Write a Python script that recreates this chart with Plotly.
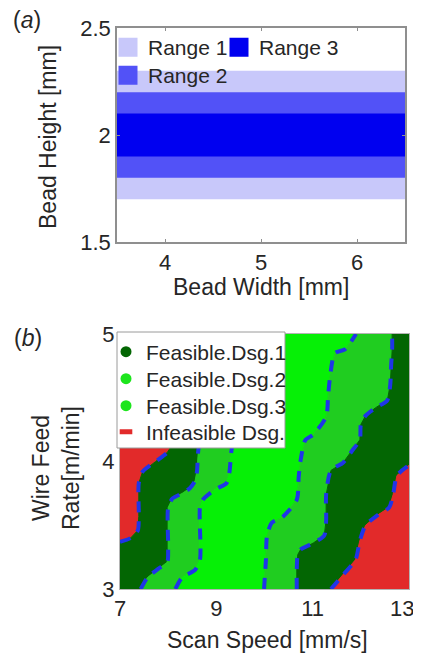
import plotly.graph_objects as go

# the page body has an 8px default margin: size the figure so that it fills the window
OFF = 8
W, H = 421 - OFF, 653 - OFF
FONT = "Liberation Sans, Arial, sans-serif"
TXT = "#262626"


def px(x):
    return (x - OFF) / W


def py(y):
    return 1 - (y - OFF) / H


# ---------------- Panel (a) data ----------------
range_names = ["Range 1", "Range 2", "Range 3"]
range_low = [1.7, 1.8, 1.9]
range_high = [2.3, 2.2, 2.1]
range_colors = ["#C8C8FA", "#5252F7", "#0000F0"]
width_min, width_max = 3.5, 6.5
a_xticks = [4, 5, 6]
a_yticks = [1.5, 2, 2.5]
a_yticktext = ["1.5", "2", "2.5"]

# ---------------- Panel (b) data ----------------
b_xticks = [7, 9, 11, 13]
b_xticktext = ["7", "9", "11", "13"]
b_yticks = [3, 4, 5]
speed_min, speed_max = 7, 13
feed_min, feed_max = 3, 5

# boundaries (scan speed, wire feed), listed bottom -> top
L1_x = [7.00, 7.22, 7.37, 7.39, 7.39, 7.47, 7.74, 7.98, 8.05, 8.30, 8.50]
L1_y = [3.37, 3.40, 3.46, 3.57, 3.83, 3.92, 4.00, 4.07, 4.11, 4.45, 5.00]
L2_x = [7.43, 7.57, 7.80, 7.98, 8.00, 8.00, 8.09, 8.29, 8.45, 8.56, 8.60, 8.63, 8.90, 9.10]
L2_y = [3.00, 3.09, 3.16, 3.21, 3.31, 3.64, 3.71, 3.75, 3.79, 3.85, 3.93, 4.10, 4.50, 5.00]
L3_x = [8.15, 8.29, 8.56, 8.66, 8.66, 8.72, 8.97, 9.21, 9.27, 9.32, 9.60, 9.90]
L3_y = [3.00, 3.09, 3.15, 3.23, 3.64, 3.70, 3.78, 3.83, 3.91, 4.10, 4.50, 5.00]
R3_x = [9.99, 10.03, 10.05, 10.15, 10.36, 10.67, 10.71, 10.75, 10.85, 11.01, 11.28, 11.32,
        11.36, 11.46, 11.67, 11.90]
R3_y = [3.00, 3.23, 3.41, 3.52, 3.56, 3.70, 3.88, 4.01, 4.17, 4.21, 4.35, 4.51,
        4.66, 4.85, 4.88, 5.00]
R2_x = [10.67, 10.67, 10.69, 10.75, 11.01, 11.24, 11.28, 11.28, 11.38, 11.63, 11.83, 11.98,
        12.00, 12.10, 12.30, 12.55, 12.61, 12.63, 12.65, 12.65]
R2_y = [3.00, 3.15, 3.27, 3.31, 3.36, 3.42, 3.54, 3.74, 3.93, 3.99, 4.09, 4.17,
        4.29, 4.36, 4.42, 4.48, 4.60, 4.76, 4.87, 5.00]
R1_x = [11.38, 11.63, 11.89, 11.98, 12.10, 12.35, 12.59, 12.67, 12.75, 12.96, 13.00]
R1_y = [3.00, 3.11, 3.23, 3.38, 3.50, 3.58, 3.64, 3.74, 3.89, 3.96, 3.97]

design_names = ["Feasible.Dsg.1", "Feasible.Dsg.2", "Feasible.Dsg.3", "Infeasible Dsg."]
c_dark = "#036603"
c_mid = "#20CD20"
c_bright = "#06F006"
c_red = "#E22A2A"
legend_colors = [c_dark, "#1DE51D", "#1DE51D", c_red]
dash_color = "#1F35E8"

fig = go.Figure()

# ---- panel (a) bands ----
for name, lo, hi, col in zip(range_names, range_low, range_high, range_colors):
    fig.add_trace(go.Bar(
        orientation="h", y=[(lo + hi) / 2], x=[width_max - width_min], base=[width_min],
        width=[hi - lo], marker=dict(color=col, line=dict(width=0)),
        showlegend=False, hoverinfo="skip", xaxis="x", yaxis="y"))

# legend swatches for (a): one legend each to mimic the column layout
a_legend_ids = {"Range 1": "legend", "Range 2": "legend3", "Range 3": "legend2"}
for name, col in zip(range_names, range_colors):
    fig.add_trace(go.Scatter(
        x=[None], y=[None], mode="markers", name=name,
        marker=dict(symbol="square", size=16, color=col, line=dict(color=col, width=3)),
        legend=a_legend_ids[name], xaxis="x", yaxis="y"))


# ---- panel (b) regions ----
def rev(a):
    return list(reversed(a))


regions = [
    (c_red, L1_x + [speed_min], L1_y + [feed_max]),
    (c_dark, [speed_min] + L2_x + rev(L1_x), [feed_min] + L2_y + rev(L1_y)),
    (c_mid, L3_x + rev(L2_x), L3_y + rev(L2_y)),
    (c_bright, R3_x + rev(L3_x), R3_y + rev(L3_y)),
    (c_mid, R2_x + rev(R3_x), R2_y + rev(R3_y)),
    (c_dark, R1_x + [speed_max] + rev(R2_x), R1_y + [feed_max] + rev(R2_y)),
    (c_red, R1_x + [speed_max], R1_y + [feed_min]),
]
for col, xs, ys in regions:
    fig.add_trace(go.Scatter(
        x=xs, y=ys, mode="lines", fill="toself", fillcolor=col,
        line=dict(color=col, width=1), showlegend=False, hoverinfo="skip",
        xaxis="x2", yaxis="y2"))

for bx, by in [(L1_x, L1_y), (L2_x, L2_y), (L3_x, L3_y), (R3_x, R3_y), (R2_x, R2_y), (R1_x, R1_y)]:
    fig.add_trace(go.Scatter(
        x=bx, y=by, mode="lines",
        line=dict(color=dash_color, width=4, dash="11px,9px", shape="spline", smoothing=0.7),
        showlegend=False, hoverinfo="skip", xaxis="x2", yaxis="y2"))

b_legend_ids = ["legend4", "legend5", "legend6", "legend7"]
for i, (name, col) in enumerate(zip(design_names, legend_colors)):
    if i < 3:
        mk = dict(symbol="circle", size=11, color=col, line=dict(width=0))
    else:
        mk = dict(symbol="line-ew", size=9, color=col, line=dict(color=col, width=5))
    fig.add_trace(go.Scatter(
        x=[None], y=[None], mode="markers", name=name, marker=mk,
        legend=b_legend_ids[i], xaxis="x2", yaxis="y2"))


# ---- legends ----
def leg(xpix, ypix):
    return dict(x=px(xpix), y=py(ypix), xanchor="left", yanchor="middle",
                bgcolor="rgba(0,0,0,0)", borderwidth=0, itemwidth=30,
                font=dict(family=FONT, size=21, color=TXT),
                itemclick=False, itemdoubleclick=False)


def note(text, xpix, ypix, angle=0):
    return dict(text=text, x=px(xpix), y=py(ypix), xref="paper", yref="paper",
                xanchor="center", yanchor="middle", textangle=angle, showarrow=False,
                font=dict(size=23, family=FONT, color=TXT))


axis_common = dict(showgrid=False, zeroline=False, showline=True, mirror="ticks",
                   tickfont=dict(family=FONT, size=22, color=TXT), automargin=False)

# the last x tick label of panel (b) sits at the window edge: draw it as an
# annotation anchored to its tick value, nudged inwards like in the original
last_tick_label = dict(text=b_xticktext[-1], x=b_xticks[-1], xref="x2", y=py(608),
                       yref="paper", xanchor="center", yanchor="middle", xshift=-7,
                       showarrow=False, font=dict(size=22, family=FONT, color=TXT))

fig.update_layout(
    width=W, height=H,
    margin=dict(l=0, r=0, t=0, b=0),
    paper_bgcolor="white", plot_bgcolor="white",
    barmode="overlay",
    font=dict(family=FONT, color=TXT),
    xaxis=dict(domain=[px(117), px(405)], range=[width_min, width_max], anchor="y",
               tickvals=a_xticks, ticks="inside", ticklen=3, tickcolor="#8f8f8f",
               linecolor="#8f8f8f", linewidth=1.5, **axis_common),
    yaxis=dict(domain=[py(242), py(28)], range=[1.5, 2.5], anchor="x",
               tickvals=a_yticks, ticktext=a_yticktext, ticks="inside", ticklen=3,
               tickcolor="#8f8f8f", linecolor="#8f8f8f", linewidth=1.5, **axis_common),
    xaxis2=dict(domain=[px(120), px(409)], range=[speed_min, speed_max], anchor="y2",
                tickvals=b_xticks, ticktext=b_xticktext[:-1] + [""], ticks="",
                linecolor="#b4b4b4", linewidth=1, **axis_common),
    yaxis2=dict(domain=[py(589), py(334)], range=[feed_min, feed_max], anchor="x2",
                tickvals=b_yticks, ticks="", linecolor="#b4b4b4", linewidth=1,
                **axis_common),
    legend=leg(108, 47.5),
    legend2=leg(219, 47.5),
    legend3=leg(108, 75.5),
    legend4=leg(106, 352),
    legend5=leg(106, 379),
    legend6=leg(106, 406),
    legend7=leg(106, 432),
    shapes=[dict(type="rect", xref="paper", yref="paper",
                 x0=px(117), x1=px(285), y0=py(448), y1=py(332),
                 fillcolor="white", line=dict(color="#9a9a9a", width=1), layer="above")],
    annotations=[
        note("(<i>a</i>)", 27, 20),
        note("(<i>b</i>)", 28, 338),
        note("Bead Height [mm]", 48, 137, -90),
        note("Bead Width [mm]", 261, 287),
        note("Wire Feed<br>Rate[m/min]", 56, 468, -90),
        note("Scan Speed [mm/s]", 267, 640),
        last_tick_label,
    ],
)

fig.write_html("out.html")
